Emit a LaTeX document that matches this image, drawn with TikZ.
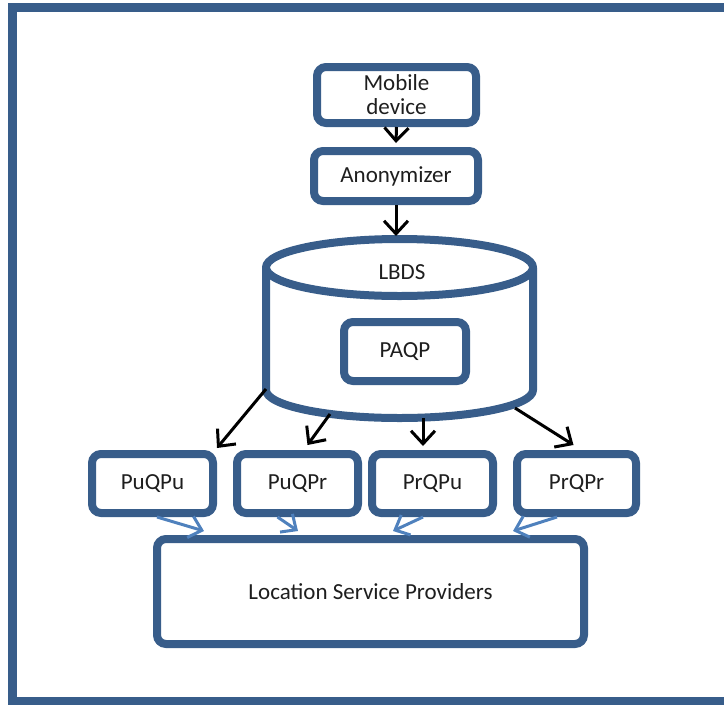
\documentclass[tikz,border=0pt]{standalone}
\usepackage{fontspec}
\setmainfont{Carlito}
\usetikzlibrary{arrows.meta}
\definecolor{frameblue}{HTML}{385D8A}
\definecolor{arrowblue}{HTML}{4F81BD}
\definecolor{labelgray}{HTML}{1E1E1E}
\begin{document}
\begin{tikzpicture}[x=1pt,y=-1pt,
  box/.style={draw=frameblue, line width=8pt, rounded corners=9pt, fill=white,
    text=labelgray, inner sep=0pt, align=center,
    font=\fontsize{23}{24}\selectfont},
  cylline/.style={draw=frameblue, line width=8pt, line join=round},
  lbl/.style={text=labelgray, font=\fontsize{23}{24}\selectfont},
  blackarrow/.style={draw=black, line width=3pt,
    -{Straight Barb[length=13pt,width=24pt,line width=3pt]}},
  bluearrow/.style={draw=arrowblue, line width=3pt,
    -{Straight Barb[length=12pt,width=22pt,line width=3pt]}}]
\useasboundingbox (0,0) rectangle (724,705);
\clip (0,0) rectangle (724,705);

% outer frame (open on the right)
\draw[frameblue, line width=9pt] (760,7.5) -- (12.5,7.5) -- (12.5,701.5) -- (760,701.5);

% top chain
\node[box, minimum width=159pt, minimum height=56pt] (mobile) at (396.5,95) {Mobile\\device};
\node[box, minimum width=164pt, minimum height=50pt] (anon) at (396,176) {Anonymizer};

% LBDS cylinder
\draw[cylline] (266,267.5) -- (266,390)
  arc[start angle=180, end angle=360, x radius=133.5pt, y radius=28pt] -- (533,267.5);
\draw[cylline] (399.5,267.5) ellipse [x radius=133.5pt, y radius=28.5pt];
\coordinate (ctop) at (399.5,239);
\node[lbl] (lbds) at (402,272) {LBDS};
\node[box, minimum width=122pt, minimum height=59pt] (paqp) at (405,351.5) {PAQP};
\coordinate (c1) at (266,389);
\coordinate (c2) at (330,414);
\coordinate (c3) at (423,418);
\coordinate (c4) at (515,408);

% query type boxes
\node[box, minimum width=121pt, minimum height=59pt] (puqpu) at (152.5,483.5) {PuQPu};
\node[box, minimum width=121pt, minimum height=59pt] (puqpr) at (297.5,483.5) {PuQPr};
\node[box, minimum width=121pt, minimum height=59pt] (prqpu) at (432.5,483.5) {PrQPu};
\node[box, minimum width=119pt, minimum height=59pt] (prqpr) at (576.5,483.5) {PrQPr};

% providers
\node[box, minimum width=427pt, minimum height=105pt] (lsp) at (370.5,591.5) {Location Service Providers};

% connectors
\draw[blackarrow] (mobile.south) -- ([yshift=4pt]anon.north);
\draw[blackarrow] (anon.south) -- ([yshift=3pt]anon.south |- ctop);
\draw[blackarrow] (c1) -- ([yshift=2pt]puqpu.north east);
\draw[blackarrow] (c2) -- ([xshift=10pt,yshift=5pt]puqpr.north);
\draw[blackarrow] (c3) -- ([yshift=4pt]c3 |- prqpu.north);
\draw[blackarrow] (c4) -- ([xshift=-3pt,yshift=5pt]prqpr.north);

\draw[bluearrow] ([xshift=4.5pt]puqpu.south) -- ([xshift=51pt,yshift=4pt]lsp.north west);
\draw[bluearrow] ([xshift=-20pt]puqpr.south) -- ([xshift=145pt,yshift=4pt]lsp.north west);
\draw[bluearrow] ([xshift=-9.5pt]prqpu.south) -- ([xshift=240pt,yshift=4pt]lsp.north west);
\draw[bluearrow] ([xshift=-19.5pt]prqpr.south) -- ([xshift=360pt,yshift=4pt]lsp.north west);
\end{tikzpicture}
\end{document}
